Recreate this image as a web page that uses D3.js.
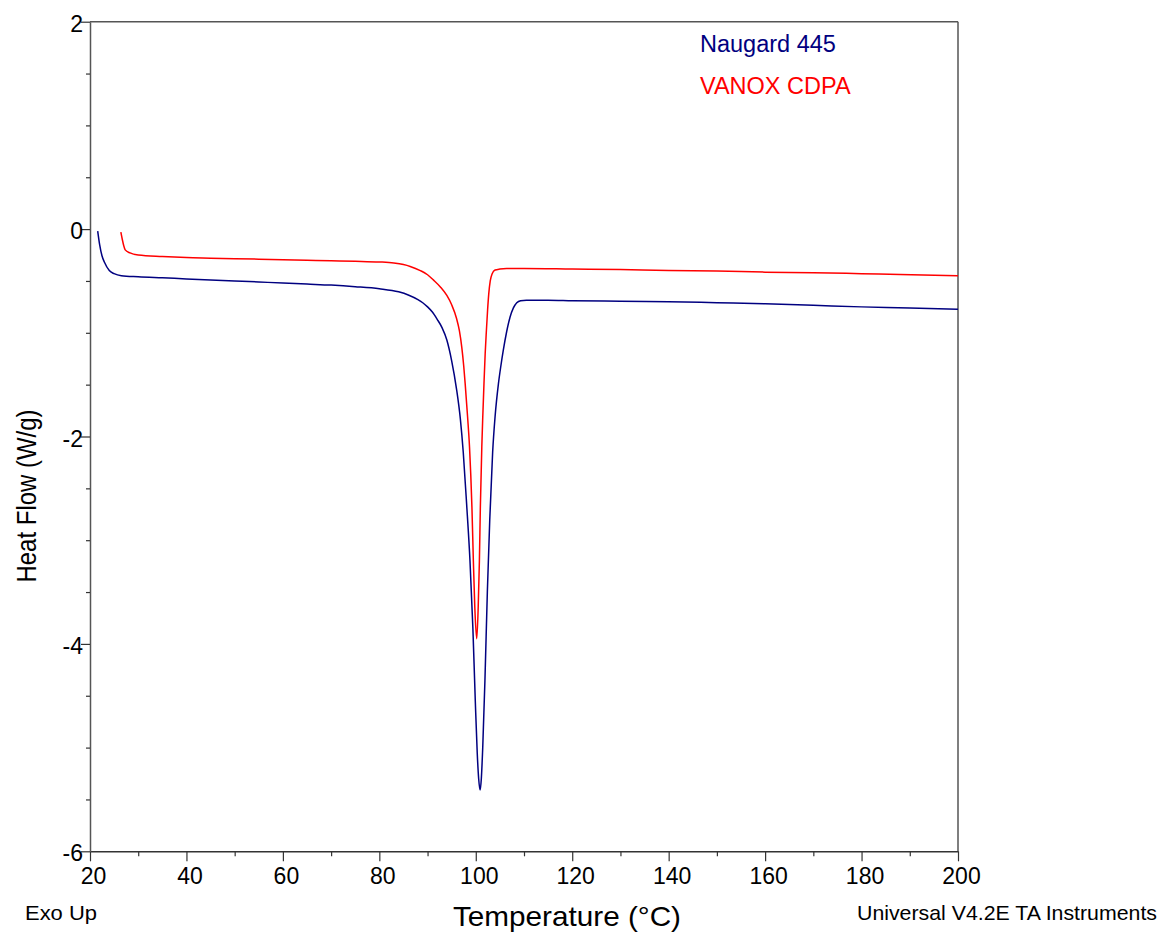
<!DOCTYPE html>
<html>
<head>
<meta charset="utf-8">
<script src="https://cdn.jsdelivr.net/npm/d3@7"></script>
<style>
  html, body { margin: 0; padding: 0; background: #fff; }
  svg { display: block; font-family: "Liberation Sans", Arial, sans-serif; }
</style>
</head>
<body>
<svg id="chart" width="1169" height="938"></svg>
<script>
// ---- Data ----
const seriesNames = ["Naugard 445", "VANOX CDPA"];
const seriesColors = ["#000080", "#ff0000"];

const naugardT = [21.6, 22.0, 22.5, 23.0, 24.0, 25.0, 26.5, 30, 35, 40, 45, 50, 55, 60, 65, 70, 75, 80, 84, 86, 88, 89, 90, 91, 92, 93, 94, 95, 96, 96.8, 97.4, 98.1, 98.8, 99.4, 99.9, 100.3, 100.6, 100.9, 101.15, 101.45, 101.9, 102.4, 102.9, 103.5, 104.0, 104.7, 105.2, 105.7, 106.4, 107.1, 107.8, 108.5, 109.3, 110.5, 115, 120, 130, 140, 150, 160, 170, 180, 190, 200];
const naugardHF = [-0.02, -0.15, -0.26, -0.32, -0.40, -0.43, -0.45, -0.46, -0.47, -0.48, -0.49, -0.50, -0.51, -0.52, -0.53, -0.54, -0.555, -0.575, -0.605, -0.635, -0.68, -0.71, -0.75, -0.80, -0.87, -0.95, -1.07, -1.27, -1.54, -1.83, -2.15, -2.65, -3.20, -3.85, -4.55, -5.05, -5.30, -5.41, -5.30, -4.99, -4.35, -3.50, -2.80, -2.15, -1.81, -1.49, -1.32, -1.17, -0.99, -0.85, -0.76, -0.71, -0.69, -0.685, -0.685, -0.69, -0.695, -0.70, -0.71, -0.72, -0.735, -0.75, -0.76, -0.774];

const vanoxT = [26.4, 26.7, 27.0, 27.3, 28.3, 30, 35, 40, 45, 50, 55, 60, 65, 70, 75, 80, 83, 85, 86.4, 88.5, 90, 91.2, 92.7, 94.0, 95.0, 96.0, 96.6, 97.1, 97.5, 97.8, 98.3, 98.7, 99.2, 99.5, 99.8, 100.2, 100.5, 100.75, 100.95, 101.25, 101.45, 101.7, 101.95, 102.2, 102.45, 102.7, 103.0, 103.4, 104.0, 105.0, 106.4, 110, 120, 130, 140, 150, 160, 170, 180, 188, 200];
const vanoxHF = [-0.03, -0.10, -0.16, -0.20, -0.23, -0.25, -0.265, -0.275, -0.28, -0.285, -0.29, -0.295, -0.30, -0.305, -0.31, -0.317, -0.327, -0.342, -0.36, -0.40, -0.44, -0.49, -0.56, -0.64, -0.73, -0.86, -0.98, -1.14, -1.32, -1.49, -1.81, -2.10, -2.68, -3.20, -3.65, -3.95, -3.65, -3.20, -2.68, -2.10, -1.81, -1.49, -1.20, -0.98, -0.78, -0.62, -0.50, -0.43, -0.395, -0.385, -0.38, -0.38, -0.385, -0.39, -0.40, -0.405, -0.415, -0.42, -0.43, -0.437, -0.45];

const xTickValues = [20, 40, 60, 80, 100, 120, 140, 160, 180, 200];
const xMinorTicks = [30, 50, 70, 90, 110, 130, 150, 170, 190];
const yTickValues = [2, 0, -2, -4, -6];
const yMinorTicks = [1.5, 1, 0.5, -0.5, -1, -1.5, -2.5, -3, -3.5, -4.5, -5, -5.5];

const xTitle = "Temperature (°C)";
const yTitle = "Heat Flow (W/g)";
const noteLeft = "Exo Up";
const noteRight = "Universal V4.2E TA Instruments";

// ---- Layout ----
const svg = d3.select("#chart");
const mLeft = 90, mRight = 958, mTop = 21.7, mBottom = 851.3;

const x = d3.scaleLinear().domain([20, 200]).range([mLeft, mRight]);
const y = d3.scaleLinear().domain([-6, 2]).range([mBottom, mTop]);

const axisColor = "#333";

// Frame (top + right)
svg.append("line").attr("x1", mLeft).attr("x2", mRight).attr("y1", mTop).attr("y2", mTop)
  .attr("stroke", "#555").attr("stroke-width", 1.5);
svg.append("line").attr("x1", mRight).attr("x2", mRight).attr("y1", mTop).attr("y2", mBottom)
  .attr("stroke", "#555").attr("stroke-width", 1.5);

// X axis
const xAxis = d3.axisBottom(x).tickValues(xTickValues).tickSize(10).tickSizeOuter(0).tickPadding(6);
const gx = svg.append("g").attr("transform", `translate(0,${mBottom})`).call(xAxis);
gx.select(".domain").attr("stroke", axisColor).attr("stroke-width", 1.5);
gx.selectAll(".tick line").attr("stroke", axisColor).attr("stroke-width", 1.2);
gx.selectAll(".tick text").attr("font-size", 23).attr("fill", "#000")
  .attr("font-family", "Liberation Sans, Arial, sans-serif").attr("dx", 3).attr("dy", "0.72em");
const gxm = svg.append("g").attr("transform", `translate(0,${mBottom})`)
  .call(d3.axisBottom(x).tickValues(xMinorTicks).tickSize(5).tickFormat(""));
gxm.select(".domain").remove();
gxm.selectAll(".tick line").attr("stroke", axisColor).attr("stroke-width", 1.2);

// Y axis
const yAxis = d3.axisLeft(y).tickValues(yTickValues).tickSize(9).tickSizeOuter(0).tickPadding(0)
  .tickFormat(d3.format("d"));
const gy = svg.append("g").attr("transform", `translate(${mLeft},0)`).call(yAxis);
gy.select(".domain").attr("stroke", "#555").attr("stroke-width", 1.5);
gy.selectAll(".tick line").attr("stroke", axisColor).attr("stroke-width", 1.2);
gy.selectAll(".tick text").attr("font-size", 23).attr("fill", "#000")
  .attr("font-family", "Liberation Sans, Arial, sans-serif").attr("x", -7).attr("dy", "0.42em")
  .text(d => d < 0 ? "-" + Math.abs(d) : d);
const gym = svg.append("g").attr("transform", `translate(${mLeft},0)`)
  .call(d3.axisLeft(y).tickValues(yMinorTicks).tickSize(4).tickFormat(""));
gym.select(".domain").remove();
gym.selectAll(".tick line").attr("stroke", axisColor).attr("stroke-width", 1.2);

// Curves
const lineGen = d3.line().x(d => x(d[0])).y(d => y(d[1])).curve(d3.curveMonotoneX);
const naugard = naugardT.map((t, i) => [t, naugardHF[i]]);
const vanox = vanoxT.map((t, i) => [t, vanoxHF[i]]);

svg.append("path").datum(vanox).attr("d", lineGen)
  .attr("fill", "none").attr("stroke", seriesColors[1]).attr("stroke-width", 1.5);
svg.append("path").datum(naugard).attr("d", lineGen)
  .attr("fill", "none").attr("stroke", seriesColors[0]).attr("stroke-width", 1.5);

// Legend
seriesNames.forEach((n, i) => {
  svg.append("text").attr("x", 700).attr("y", 52 + i * 42).attr("font-size", 23.5)
    .attr("fill", seriesColors[i]).text(n);
});

// Titles
svg.append("text").attr("x", 567).attr("y", 926).attr("text-anchor", "middle")
  .attr("font-size", 28).attr("textLength", 228).attr("lengthAdjust", "spacingAndGlyphs")
  .attr("fill", "#000").text(xTitle);
svg.append("text").attr("transform", "translate(36,496) rotate(-90)").attr("text-anchor", "middle")
  .attr("font-size", 28).attr("textLength", 173).attr("lengthAdjust", "spacingAndGlyphs")
  .attr("fill", "#000").text(yTitle);

svg.append("text").attr("x", 25).attr("y", 920).attr("font-size", 20)
  .attr("textLength", 72).attr("lengthAdjust", "spacingAndGlyphs").attr("fill", "#000").text(noteLeft);
svg.append("text").attr("x", 857).attr("y", 920).attr("font-size", 21)
  .attr("textLength", 300).attr("lengthAdjust", "spacingAndGlyphs").attr("fill", "#000").text(noteRight);
</script>
</body>
</html>
